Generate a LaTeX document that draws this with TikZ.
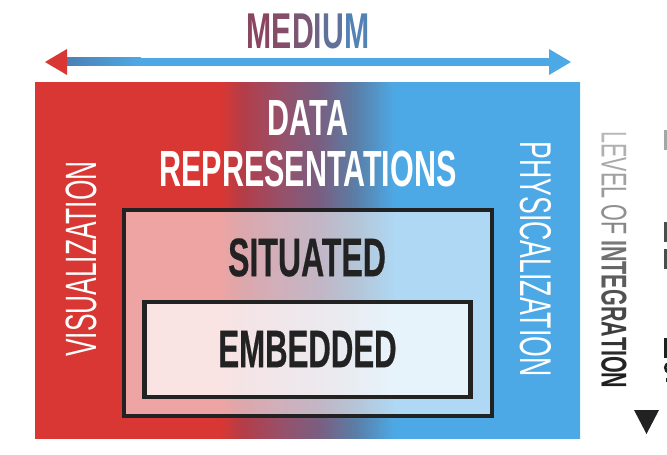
\documentclass[tikz,border=0pt]{standalone}
\usepackage{fontspec}
\newfontfamily\condfont[FakeStretch=0.6]{Liberation Sans}
\newfontfamily\condbold[FakeStretch=0.59, FakeBold=0.4]{Liberation Sans}
\usetikzlibrary{arrows.meta}

\definecolor{vizred}{HTML}{D93733}
\definecolor{physblue}{HTML}{4DA9E6}
\definecolor{shaftdark}{HTML}{4B7FB3}
\definecolor{ink}{HTML}{222222}
\definecolor{midA}{HTML}{B43D48}
\definecolor{midB}{HTML}{98506A}
\definecolor{midC}{HTML}{7A5E80}
\definecolor{midD}{HTML}{5A7FA8}
\definecolor{medA}{HTML}{8A4560}
\definecolor{medB}{HTML}{864D69}
\definecolor{medC}{HTML}{7B5775}
\definecolor{medD}{HTML}{6D6586}
\definecolor{medE}{HTML}{60729A}
\definecolor{medF}{HTML}{5382B5}

\pgfdeclarehorizontalshading{medium}{100bp}{color(0bp)=(vizred); color(42bp)=(vizred);
  color(44bp)=(midA); color(47.5bp)=(midB); color(51bp)=(midC); color(54.5bp)=(midD);
  color(58bp)=(physblue); color(100bp)=(physblue)}

\tikzset{
  lbl/.style={inner sep=0pt, font=\condfont\fontsize{#1}{#1}\selectfont},
  boldlbl/.style={inner sep=0pt, font=\condfont\bfseries\fontsize{#1}{#1}\selectfont},
  heavylbl/.style={inner sep=0pt, font=\condbold\bfseries\fontsize{#1}{#1}\selectfont},
  framebox/.style={draw=ink, line width=4.5bp, fill=white, inner sep=0pt},
}

\begin{document}
\begin{tikzpicture}[x=1bp, y=-1bp, >=Latex]
    \useasboundingbox (0,0) rectangle (667,455);

    % medium axis
    \coordinate (medL) at (45,62);
    \coordinate (medR) at (571,62);
    \shade[left color=shaftdark, right color=physblue] (64,58) rectangle (141,66);
    \fill[physblue] (140,58) rectangle (552,66);
    \fill[vizred] (medL) -- ++(22,-13) -- ++(0,26) -- cycle;
    \fill[physblue] (medR) -- ++(-22,-13) -- ++(0,26) -- cycle;
    \node[boldlbl=50.5] (medium) at (308,31) {\textcolor{medA}{M}\textcolor{medB}{E}\textcolor{medC}{D}\textcolor{medD}{I}\textcolor{medE}{U}\textcolor{medF}{M}};

    % representations
    \shade[shading=medium] (35,83) rectangle (580,438);
    \node[framebox, fill opacity=.55, minimum width=367.5bp, minimum height=205.5bp] (situated) at (308,313) {};
    \node[framebox, fill opacity=.7, minimum width=326bp, minimum height=94.5bp] (embedded) at (307.4,349.5) {};

    \node[boldlbl=51, text=white] (data) at (308,118.5) {DATA};
    \node[boldlbl=51, text=white] (repr) at (308,169) {REPRESENTATIONS};
    \node[heavylbl=54.5, text=ink] (sitlbl) at (307,257.5) {SITUATED};
    \node[heavylbl=53, text=ink] (emblbl) at (307.5,349) {EMBEDDED};
    \node[lbl=44, text=white, rotate=90] (viz) at (81,259) {VISUALIZATION};
    \node[lbl=44.6, text=white, rotate=-90] (phys) at (536,259) {PHYSICALIZATION};

    % integration axis
    \node[lbl=36, rotate=-90] (level) at (614,260) {\color{black!28}L\color{black!31}E\color{black!34}V\color{black!37}E\color{black!40}L
      \color{black!44}O\color{black!47}F \bfseries\color{black!52}I\color{black!56}N\color{black!60}T\color{black!64}E\color{black!68}G\color{black!72}R\color{black!76}A\color{black!80}T\color{black!83}I\color{black!86}O\color{black!88}N};
    \fill[ink] (634,410) -- (659,410) -- (646.5,434) -- cycle;

    % cut off at the edge
    \fill[black!35] (664,130) rectangle (670,150);
    \fill[black!70] (664,222) rectangle (670,242);
    \fill[black!70] (664,249) rectangle (670,269);
    \fill[black!88] (664,338) rectangle (670,358);
    \draw[black!88, line width=2.5bp] (669,363) .. controls (664,364) and (664,371) .. (669,373);
    \fill[black!88] (666,378) rectangle (670,382);
\end{tikzpicture}
\end{document}
